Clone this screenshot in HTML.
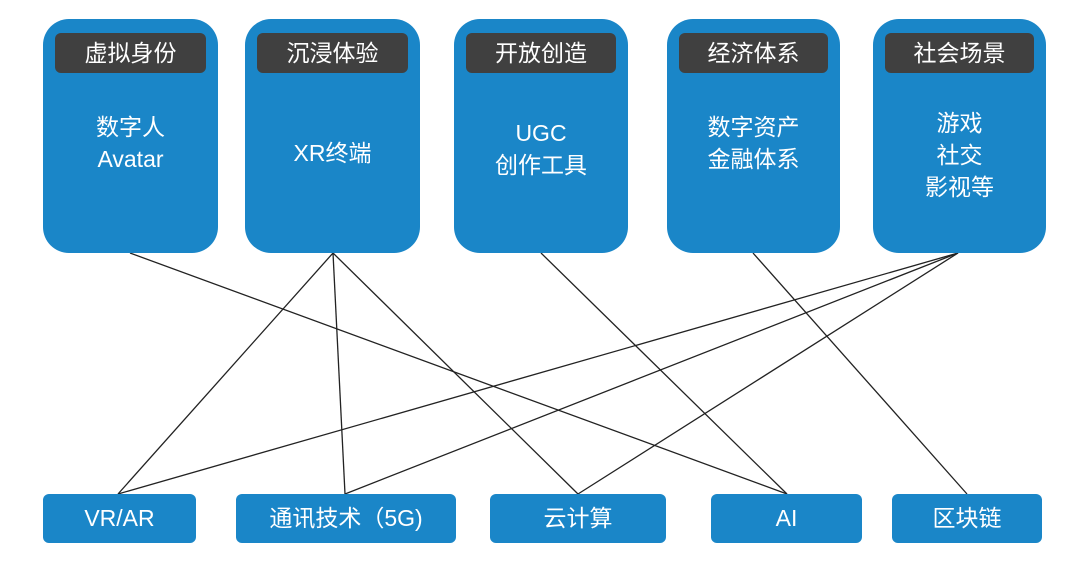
<!DOCTYPE html>
<html><head><meta charset="utf-8"><style>
body{margin:0;width:1080px;height:578px;background:#fff;overflow:hidden;position:relative;font-family:"Liberation Sans","Noto Sans CJK SC",sans-serif;}
.t{position:absolute;top:19px;height:234px;background:#1a86c8;border-radius:26px;color:#fff;text-align:center;}
.lab{position:absolute;left:12px;right:12px;top:14px;height:40px;background:#404040;border-radius:6px;font-size:23px;line-height:40px;color:#fff;}
.body{position:absolute;left:0;right:0;font-size:23px;line-height:32px;}
.b{position:absolute;top:494px;height:49px;background:#1a86c8;border-radius:6px;color:#fff;font-size:23px;line-height:49px;text-align:center;}
svg{position:absolute;left:0;top:0;}
</style></head><body>
<svg width="1080" height="578"><g stroke="#222" stroke-width="1.3" fill="none">
<line x1="130" y1="253" x2="787" y2="494"/>
<line x1="333" y1="253" x2="118" y2="494"/>
<line x1="333" y1="253" x2="345" y2="494"/>
<line x1="333" y1="253" x2="578" y2="494"/>
<line x1="541" y1="253" x2="787" y2="494"/>
<line x1="753" y1="253" x2="967" y2="494"/>
<line x1="958" y1="253" x2="118" y2="494"/>
<line x1="958" y1="253" x2="345" y2="494"/>
<line x1="958" y1="253" x2="578" y2="494"/>
</g></svg>
<div class="t" style="left:43px;width:175px"><div class="lab">虚拟身份</div><div class="body" style="top:92px">数字人<br>Avatar</div></div>
<div class="t" style="left:245px;width:175px"><div class="lab">沉浸体验</div><div class="body" style="top:118px">XR终端</div></div>
<div class="t" style="left:454px;width:174px"><div class="lab">开放创造</div><div class="body" style="top:98px">UGC<br>创作工具</div></div>
<div class="t" style="left:667px;width:173px"><div class="lab">经济体系</div><div class="body" style="top:92px">数字资产<br>金融体系</div></div>
<div class="t" style="left:873px;width:173px"><div class="lab">社会场景</div><div class="body" style="top:88px">游戏<br>社交<br>影视等</div></div>
<div class="b" style="left:43px;width:153px">VR/AR</div>
<div class="b" style="left:236px;width:220px">通讯技术（5G)</div>
<div class="b" style="left:490px;width:176px">云计算</div>
<div class="b" style="left:711px;width:151px">AI</div>
<div class="b" style="left:892px;width:150px">区块链</div>
</body></html>
